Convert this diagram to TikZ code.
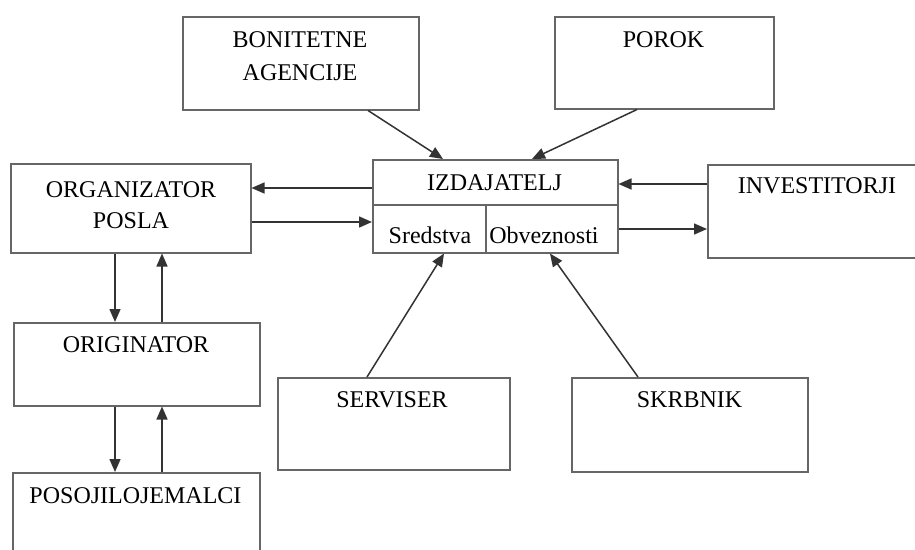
\documentclass[tikz,border=0pt]{standalone}
\usepackage{fontspec}
\setmainfont{Liberation Serif}
\usetikzlibrary{arrows.meta}
\tikzset{
  box/.style={draw=black!60, line width=1.5pt, rectangle, inner sep=0pt, anchor=north west},
  txt/.style={inner sep=0pt, anchor=base, font=\fontsize{24}{31}\selectfont, text=black},
  conn/.style={draw=black!80, line width=1.5pt, -{Triangle[length=13pt,width=11pt]}},
  divider/.style={draw=black!60, line width=1.5pt}
}
\begin{document}
\begin{tikzpicture}[x=1pt,y=-1pt]
\useasboundingbox (0,0) rectangle (915,549);
\clip (0,0) rectangle (915,549);
\fill[white] (0,0) rectangle (915,549);
% boxes
\node[box, minimum width=236pt, minimum height=93pt] (bon) at (182,16) {};
\node[box, minimum width=219pt, minimum height=92pt] (por) at (554,16) {};
\node[box, minimum width=245pt, minimum height=93pt] (izd) at (372,159) {};
\node[box, minimum width=240pt, minimum height=89pt] (org) at (10,163) {};
\node[box, minimum width=225pt, minimum height=93pt] (inv) at (707,164) {};
\node[box, minimum width=246pt, minimum height=83pt] (ori) at (13,322) {};
\node[box, minimum width=247pt, minimum height=95pt] (pos) at (12,472) {};
\node[box, minimum width=232pt, minimum height=92pt] (ser) at (277,377) {};
\node[box, minimum width=236pt, minimum height=94pt] (skr) at (571,377) {};
% dividers inside IZDAJATELJ
\coordinate (dl) at (372,205);
\coordinate (dr) at (617,205);
\coordinate (dt) at (486,205);
\coordinate (db) at (486,252);
\draw[divider] (dl) -- (dr);
\draw[divider] (dt) -- (db);
% texts
\node[txt] (tbon1) at (300,47) {BONITETNE};
\node[txt] (tbon2) at (300,80) {AGENCIJE};
\node[txt] (tpor) at (663.5,47) {POROK};
\node[txt] (tizd) at (494.5,190) {IZDAJATELJ};
\node[txt] (tsre) at (430,243) {Sredstva};
\node[txt] (tobv) at (544,243) {Obveznosti};
\node[txt] (torg1) at (131,197) {ORGANIZATOR};
\node[txt] (torg2) at (131,228) {POSLA};
\node[txt] (tinv) at (817,193) {INVESTITORJI};
\node[txt] (tori) at (136,352) {ORIGINATOR};
\node[txt] (tpos) at (135.5,503) {POSOJILOJEMALCI};
\node[txt] (tser) at (392,407) {SERVISER};
\node[txt] (tskr) at (689.5,407) {SKRBNIK};
% connectors
\draw[conn] ([yshift=-29pt]izd.north west) -- ([yshift=-25pt]org.north east);
\draw[conn] ([yshift=-59pt]org.north east) -- ([yshift=-63pt]izd.north west);
\draw[conn] ([yshift=-20pt]inv.north west) -- ([yshift=-25pt]izd.north east);
\draw[conn] ([yshift=-70pt]izd.north east) -- ([yshift=-65pt]inv.north west);
\draw[conn] ([xshift=186pt]bon.south west) -- ([xshift=71pt]izd.north west);
\draw[conn] ([xshift=83pt]por.south west) -- ([xshift=160pt]izd.north west);
\draw[conn] ([xshift=90pt]ser.north west) -- ([xshift=72pt]izd.south west);
\draw[conn] ([xshift=67pt]skr.north west) -- ([xshift=178pt]izd.south west);
\draw[conn] ([xshift=105pt]org.south west) -- ([xshift=102pt]ori.north west);
\draw[conn] ([xshift=149pt]ori.north west) -- ([xshift=152pt]org.south west);
\draw[conn] ([xshift=102pt]ori.south west) -- ([xshift=103pt]pos.north west);
\draw[conn] ([xshift=150pt]pos.north west) -- ([xshift=149pt]ori.south west);
\end{tikzpicture}
\end{document}
